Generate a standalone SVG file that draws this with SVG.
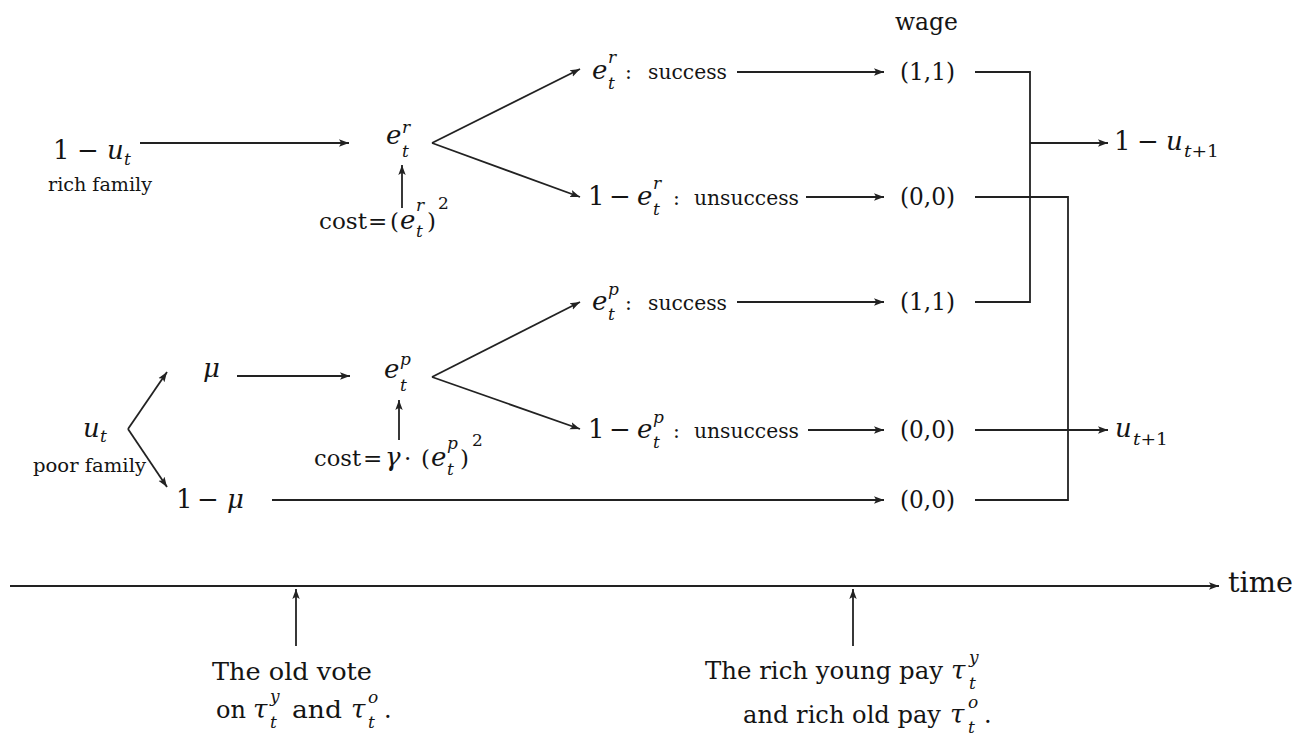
<svg xmlns="http://www.w3.org/2000/svg" width="1298" height="738" viewBox="0 0 1298 738">
<style>
text { font-family: "DejaVu Serif", "Liberation Serif", "Noto Serif", serif; fill: #141414; }
.m { font-size: 26px; }
.i { font-style: italic; }
.s { font-size: 17px; }
.w { font-size: 20.4px; }
.sm { font-size: 19px; }
.b { font-size: 24px; }
.c { font-size: 23px; }
.ln { fill: none; stroke: #222; stroke-width: 1.8; }
.ar { fill: none; stroke: #222; stroke-width: 1.8; marker-end: url(#ah); }
</style>
<defs>
<marker id="ah" markerUnits="userSpaceOnUse" markerWidth="12" markerHeight="10" refX="10" refY="4" orient="auto" viewBox="0 0 12 8">
<path d="M0,0.3 L10,4 L0,7.7 L2.2,4 z" fill="#222"/>
</marker>
</defs>
<rect width="1298" height="738" fill="#fff"/>

<g id="connectors">
<path class="ar" d="M140,143 H349"/>
<path class="ar" d="M432,143 L580,69"/>
<path class="ar" d="M432,143 L580,197"/>
<path class="ar" d="M402,208 V165"/>
<path class="ar" d="M737,72 H884"/>
<path class="ar" d="M806,197 H884"/>
<path class="ln" d="M975,72 H1030 V302 H975"/>
<path class="ar" d="M1030,143 H1108"/>
<path class="ln" d="M975,197 H1068 V500 H975"/>
<path class="ar" d="M975,430 H1108"/>
<path class="ar" d="M128,429 L167,372"/>
<path class="ar" d="M128,429 L167,487"/>
<path class="ar" d="M237,376 H350"/>
<path class="ar" d="M432,377 L580,302"/>
<path class="ar" d="M432,377 L580,429"/>
<path class="ar" d="M399,440 V400"/>
<path class="ar" d="M737,302 H884"/>
<path class="ar" d="M808,430 H884"/>
<path class="ar" d="M272,500 H884"/>
<path class="ar" d="M10,586 H1219"/>
<path class="ar" d="M296,646 V589"/>
<path class="ar" d="M853,646 V589"/>
</g>

<g id="node-rich-start">
<text class="m" x="53" y="159">1</text>
<text class="m" x="77" y="159">−</text>
<text class="m i" x="107" y="159">u</text>
<text class="s i" x="124" y="165">t</text>
<text class="sm" x="48" y="191" textLength="104" lengthAdjust="spacingAndGlyphs">rich family</text>
</g>

<g id="node-er">
<text class="m i" x="386" y="144">e</text>
<text class="s i" x="402" y="133">r</text>
<text class="s i" x="402" y="157">t</text>
</g>

<g id="node-cost-r">
<text class="c" x="319" y="229" textLength="48" lengthAdjust="spacingAndGlyphs">cost</text>
<text class="c" x="368" y="229">=</text>
<text class="c" x="390" y="229">(</text>
<text class="m i" x="400" y="229">e</text>
<text class="s i" x="416" y="211">r</text>
<text class="s i" x="416" y="237">t</text>
<text class="c" x="427" y="229">)</text>
<text class="s" x="438" y="209">2</text>
</g>

<g id="node-success-r">
<text class="m i" x="592" y="79">e</text>
<text class="s i" x="608" y="63">r</text>
<text class="s i" x="608" y="89">t</text>
<text class="w" x="625" y="79">:</text>
<text class="w" x="648" y="79" textLength="79" lengthAdjust="spacingAndGlyphs">success</text>
</g>

<g id="node-unsuccess-r">
<text class="m" x="588" y="205">1</text>
<text class="m" x="609" y="205">−</text>
<text class="m i" x="637" y="205">e</text>
<text class="s i" x="653" y="189">r</text>
<text class="s i" x="653" y="215">t</text>
<text class="w" x="673" y="205">:</text>
<text class="w" x="694" y="205" textLength="105" lengthAdjust="spacingAndGlyphs">unsuccess</text>
</g>

<g id="node-wage">
<text class="b" x="895" y="30" textLength="63" lengthAdjust="spacingAndGlyphs">wage</text>
</g>

<g id="node-w1">
<text class="b" x="900" y="80" textLength="55" lengthAdjust="spacingAndGlyphs">(1,1)</text>
</g>
<g id="node-w2">
<text class="b" x="900" y="205" textLength="55" lengthAdjust="spacingAndGlyphs">(0,0)</text>
</g>
<g id="node-w3">
<text class="b" x="900" y="310" textLength="55" lengthAdjust="spacingAndGlyphs">(1,1)</text>
</g>
<g id="node-w4">
<text class="b" x="900" y="438" textLength="55" lengthAdjust="spacingAndGlyphs">(0,0)</text>
</g>
<g id="node-w5">
<text class="b" x="900" y="508" textLength="55" lengthAdjust="spacingAndGlyphs">(0,0)</text>
</g>

<g id="node-rich-next">
<text class="m" x="1114" y="150">1</text>
<text class="m" x="1137" y="150">−</text>
<text class="m i" x="1166" y="150">u</text>
<text class="s" x="1184" y="157" textLength="35" lengthAdjust="spacingAndGlyphs"><tspan class="i">t</tspan>+1</text>
</g>

<g id="node-poor-next">
<text class="m i" x="1115" y="437">u</text>
<text class="s" x="1133" y="445" textLength="35" lengthAdjust="spacingAndGlyphs"><tspan class="i">t</tspan>+1</text>
</g>

<g id="node-poor-start">
<text class="m i" x="83" y="437">u</text>
<text class="s i" x="100" y="442">t</text>
<text class="sm" x="33" y="472" textLength="113" lengthAdjust="spacingAndGlyphs">poor family</text>
</g>

<g id="node-mu">
<text class="m i" x="203" y="377">μ</text>
</g>

<g id="node-ep">
<text class="m i" x="384" y="378">e</text>
<text class="s i" x="400" y="365">p</text>
<text class="s i" x="400" y="391">t</text>
</g>

<g id="node-cost-p">
<text class="c" x="314" y="466" textLength="47" lengthAdjust="spacingAndGlyphs">cost</text>
<text class="c" x="363" y="466">=</text>
<text class="m i" x="385" y="466">γ</text>
<text class="c" x="404" y="466">·</text>
<text class="c" x="421" y="466">(</text>
<text class="m i" x="431" y="466">e</text>
<text class="s i" x="447" y="449">p</text>
<text class="s i" x="447" y="475">t</text>
<text class="c" x="460" y="466">)</text>
<text class="s" x="472" y="446">2</text>
</g>

<g id="node-one-minus-mu">
<text class="m" x="176" y="508">1</text>
<text class="m" x="197" y="508">−</text>
<text class="m i" x="227" y="508">μ</text>
</g>

<g id="node-success-p">
<text class="m i" x="592" y="310">e</text>
<text class="s i" x="608" y="295">p</text>
<text class="s i" x="608" y="320">t</text>
<text class="w" x="625" y="310">:</text>
<text class="w" x="648" y="310" textLength="79" lengthAdjust="spacingAndGlyphs">success</text>
</g>

<g id="node-unsuccess-p">
<text class="m" x="588" y="438">1</text>
<text class="m" x="609" y="438">−</text>
<text class="m i" x="637" y="438">e</text>
<text class="s i" x="653" y="423">p</text>
<text class="s i" x="653" y="448">t</text>
<text class="w" x="673" y="438">:</text>
<text class="w" x="694" y="438" textLength="105" lengthAdjust="spacingAndGlyphs">unsuccess</text>
</g>

<g id="node-time">
<text x="1228" y="592" style="font-size:28.5px" textLength="65" lengthAdjust="spacingAndGlyphs">time</text>
</g>

<g id="node-vote">
<text class="b" x="212" y="680" textLength="160" lengthAdjust="spacingAndGlyphs">The old vote</text>
<text class="b" x="216" y="718">on</text>
<text class="m i" x="253" y="718">τ</text>
<text class="s i" x="270" y="702">y</text>
<text class="s i" x="270" y="728">t</text>
<text class="b" x="292" y="718" textLength="50" lengthAdjust="spacingAndGlyphs">and</text>
<text class="m i" x="351" y="718">τ</text>
<text class="s i" x="368" y="703">o</text>
<text class="s i" x="368" y="728">t</text>
<text class="b" x="384" y="718">.</text>
</g>

<g id="node-pay">
<text class="b" x="705" y="679" textLength="238" lengthAdjust="spacingAndGlyphs">The rich young pay</text>
<text class="m i" x="951" y="679">τ</text>
<text class="s i" x="969" y="663">y</text>
<text class="s i" x="969" y="689">t</text>
<text class="b" x="743" y="723" textLength="198" lengthAdjust="spacingAndGlyphs">and rich old pay</text>
<text class="m i" x="950" y="723">τ</text>
<text class="s i" x="968" y="708">o</text>
<text class="s i" x="968" y="733">t</text>
<text class="b" x="984" y="723">.</text>
</g>
</svg>
